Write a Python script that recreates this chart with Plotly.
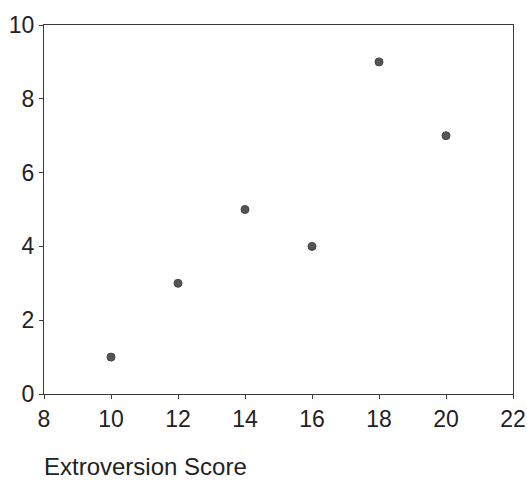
import plotly.graph_objects as go

# Extroversion score vs. count
extroversion = [10, 12, 14, 16, 18, 20]
counts = [1, 3, 5, 4, 9, 7]

x_ticks = [8, 10, 12, 14, 16, 18, 20, 22]
y_ticks = [0, 2, 4, 6, 8, 10]

font_family = "Liberation Sans, Arial, sans-serif"
axis_color = "#3a3a3a"
text_color = "#222222"

fig = go.Figure(
    go.Scatter(
        x=extroversion,
        y=counts,
        mode="markers",
        marker=dict(size=8, color="#555555", line=dict(width=1, color="#444444")),
        hoverinfo="x+y",
    )
)

axis_common = dict(
    showgrid=False,
    zeroline=False,
    showline=True,
    linecolor=axis_color,
    linewidth=1.3,
    mirror=True,
    ticks="outside",
    ticklen=4,
    tickwidth=1,
    tickcolor=axis_color,
    automargin=False,
    tickfont=dict(family=font_family, size=23, color=text_color),
)

fig.update_xaxes(range=[8, 22], tickvals=x_ticks, ticktext=[str(v) for v in x_ticks], **axis_common)
fig.update_yaxes(range=[0, 10], tickvals=y_ticks, ticktext=[str(v) for v in y_ticks], **axis_common)

fig.add_annotation(
    text="Extroversion Score",
    xref="paper", yref="paper",
    x=0, y=0,
    xanchor="left", yanchor="middle",
    xshift=-2,
    yshift=-72,
    showarrow=False,
    font=dict(family=font_family, size=24, color=text_color),
)

fig.update_layout(
    width=527,
    height=482,
    margin=dict(l=44, r=14, t=25, b=88),
    paper_bgcolor="white",
    plot_bgcolor="white",
    showlegend=False,
)

fig.write_html("out.html")
